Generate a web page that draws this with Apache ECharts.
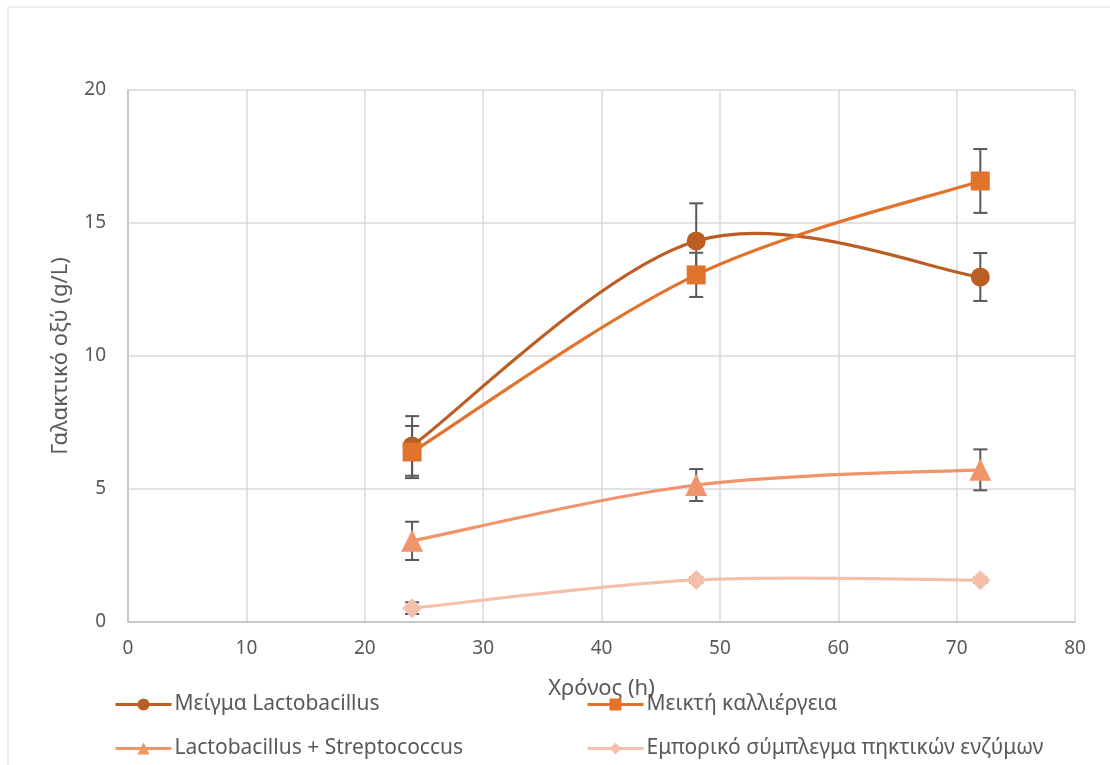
<!DOCTYPE html>
<html>
<head>
<meta charset="utf-8">
<script src="https://cdn.jsdelivr.net/npm/echarts@6/dist/echarts.min.js"></script>
<style>
  html, body { margin: 0; padding: 0; background: #fff; }
  #chart { width: 1110px; height: 765px; }
</style>
</head>
<body>
<div id="chart"></div>
<script>
// Sampling times (h)
const hours = [24, 48, 72];

// Lactic acid (g/L) per culture and standard deviations
const names = [
  'Μείγμα Lactobacillus',
  'Μεικτή καλλιέργεια',
  'Lactobacillus + Streptococcus',
  'Εμπορικό σύμπλεγμα πηκτικών ενζύμων'
];
const lactoMix      = [6.62, 14.32, 12.97];
const mixedCulture  = [6.39, 13.05, 16.58];
const lactoStrepto  = [3.05, 5.15, 5.72];
const commercial    = [0.52, 1.58, 1.57];

const lactoMixErr     = [1.12, 1.42, 0.9];
const mixedCultureErr = [0.98, 0.83, 1.2];
const lactoStreptoErr = [0.72, 0.6, 0.77];
const commercialErr   = [0.22, 0.1, 0.1];

const xTicks = [0, 10, 20, 30, 40, 50, 60, 70, 80];
const yTicks = [0, 5, 10, 15, 20];

const colors = ['#BA5E24', '#E2732C', '#F0946B', '#F5C0AB'];
const symbols = ['circle', 'rect', 'triangle', 'diamond'];
const values = [lactoMix, mixedCulture, lactoStrepto, commercial];
const errors = [lactoMixErr, mixedCultureErr, lactoStreptoErr, commercialErr];

const FONT = '"Noto Sans", sans-serif';
const TEXT = '#595959';

const chart = echarts.init(document.getElementById('chart'), null, { renderer: 'canvas' });

// Smoothed curves (Catmull-Rom style cubic Bezier through each point)
const curveSeries = names.map((n, i) => ({
  type: 'custom',
  silent: true,
  z: 4,
  data: [[hours[0], values[i][0]]],
  renderItem: function (params, api) {
    const pts = hours.map((h, k) => api.coord([h, values[i][k]]));
    const path = [];
    path.push('M' + pts[0][0] + ' ' + pts[0][1]);
    for (let k = 0; k < pts.length - 1; k++) {
      const p0 = pts[k - 1] || pts[k];
      const p1 = pts[k];
      const p2 = pts[k + 1];
      const p3 = pts[k + 2] || pts[k + 1];
      const c1 = [p1[0] + (p2[0] - p0[0]) / 6, p1[1] + (p2[1] - p0[1]) / 6];
      const c2 = [p2[0] - (p3[0] - p1[0]) / 6, p2[1] - (p3[1] - p1[1]) / 6];
      path.push('C' + c1[0] + ' ' + c1[1] + ' ' + c2[0] + ' ' + c2[1] + ' ' + p2[0] + ' ' + p2[1]);
    }
    return {
      type: 'path',
      shape: { pathData: path.join(' ') },
      style: { fill: 'none', stroke: colors[i], lineWidth: 3.2 }
    };
  }
}));

// Markers (and legend entries)
const markerSeries = names.map((n, i) => ({
  name: n,
  type: 'line',
  data: hours.map((h, k) => [h, values[i][k]]),
  symbol: symbols[i],
  symbolSize: i === 2 ? 22 : (i === 3 ? 20 : 19),
  showAllSymbol: true,
  lineStyle: { width: 3, color: colors[i], opacity: 0 },
  itemStyle: { color: colors[i], borderWidth: 0 },
  z: 5 + i
}));

// Error bars with caps
const errorSeries = names.map((n, i) => ({
  type: 'custom',
  silent: true,
  z: 3,
  data: hours.map((h, k) => [h, values[i][k] - errors[i][k], values[i][k] + errors[i][k]]),
  renderItem: function (params, api) {
    const x = api.value(0);
    const lo = api.coord([x, api.value(1)]);
    const hi = api.coord([x, api.value(2)]);
    const cap = 7;
    const style = { stroke: '#595959', lineWidth: 2 };
    return {
      type: 'group',
      children: [
        { type: 'line', shape: { x1: lo[0], y1: lo[1], x2: hi[0], y2: hi[1] }, style },
        { type: 'line', shape: { x1: lo[0] - cap, y1: lo[1], x2: lo[0] + cap, y2: lo[1] }, style },
        { type: 'line', shape: { x1: hi[0] - cap, y1: hi[1], x2: hi[0] + cap, y2: hi[1] }, style }
      ]
    };
  }
}));

const legendPos = [
  { left: 109, top: 689 },
  { left: 581, top: 689 },
  { left: 109, top: 733 },
  { left: 581, top: 733 }
];

chart.setOption({
  backgroundColor: '#fff',
  animation: false,
  textStyle: { fontFamily: FONT },
  graphic: [{
    type: 'rect',
    shape: { x: 8, y: 7, width: 1300, height: 1000 },
    style: { fill: 'none', stroke: '#d9d9d9', lineWidth: 1 },
    silent: true
  }],
  grid: { left: 128, right: 35, top: 90, bottom: 143 },
  legend: names.map((n, i) => ({
    data: [n],
    left: legendPos[i].left,
    top: legendPos[i].top,
    itemWidth: 56,
    itemHeight: 15,
    itemGap: 4,
    lineStyle: { opacity: 1, width: 3 },
    textStyle: { color: TEXT, fontSize: 21, fontFamily: FONT, padding: [0, 0, 0, -2] }
  })),
  xAxis: {
    type: 'value',
    min: xTicks[0],
    max: xTicks[xTicks.length - 1],
    interval: 10,
    name: 'Χρόνος (h)',
    nameLocation: 'middle',
    nameGap: 56,
    nameTextStyle: { color: TEXT, fontSize: 22, fontFamily: FONT },
    axisLine: { show: true, lineStyle: { color: '#bfbfbf', width: 1.5 } },
    axisTick: { show: false },
    axisLabel: { color: TEXT, fontSize: 19, margin: 17, fontFamily: FONT },
    splitLine: { show: true, lineStyle: { color: '#d9d9d9', width: 1.5 } }
  },
  yAxis: {
    type: 'value',
    min: yTicks[0],
    max: yTicks[yTicks.length - 1],
    interval: 5,
    name: 'Γαλακτικό οξύ (g/L)',
    nameLocation: 'middle',
    nameGap: 56,
    nameTextStyle: { color: TEXT, fontSize: 22, fontFamily: FONT },
    axisLine: { show: true, lineStyle: { color: '#bfbfbf', width: 1.5 } },
    axisTick: { show: false },
    axisLabel: { color: TEXT, fontSize: 19, margin: 22, fontFamily: FONT },
    splitLine: { show: true, lineStyle: { color: '#d9d9d9', width: 1.5 } }
  },
  series: errorSeries.concat(curveSeries, markerSeries)
});
</script>
</body>
</html>
